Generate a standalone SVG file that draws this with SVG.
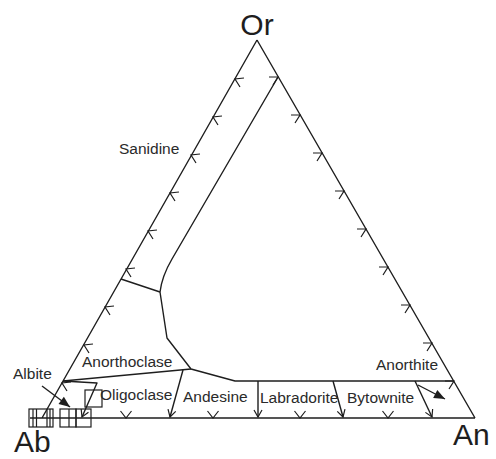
<svg xmlns="http://www.w3.org/2000/svg" xmlns:xlink="http://www.w3.org/1999/xlink" width="496" height="459" viewBox="0 0 496 459">
<style>
.ln{fill:none;stroke:#1e1e1e;stroke-width:1.4;stroke-linejoin:round}
.tk{fill:none;stroke:#1e1e1e;stroke-width:1.2}
.lb{font-family:"Liberation Sans",Arial,sans-serif;font-size:15.5px;fill:#2a2a2a}
.big{font-family:"Liberation Sans",Arial,sans-serif;font-size:30px;fill:#1e1e1e}
</style>
<defs>
<marker id="av" markerUnits="userSpaceOnUse" viewBox="-9 -6 11 12" refX="0" refY="0" markerWidth="11" markerHeight="12" orient="auto">
<path d="M-7,-4 L0,0 L-7,4" fill="none" stroke="#1e1e1e" stroke-width="1.2"/>
</marker>
<marker id="af" markerUnits="userSpaceOnUse" viewBox="-12 -6 13 12" refX="0" refY="0" markerWidth="13" markerHeight="12" orient="auto">
<path d="M-11,-4.5 L0,0 L-11,4.5 Z" fill="#1e1e1e"/>
</marker>
<path id="tl" class="tk" d="M9,-1 L0,0 L5,8"/>
<path id="tr" class="tk" d="M-9,0 L0,0 L-5,8"/>
<path id="tv" class="tk" d="M-5.5,-7 L0,0 L5.5,-7"/>
</defs>

<g id="connectors">
<path id="triangle" class="ln" d="M257,40 L42,418 M257,40 L475,418 M30,418 L475,418"/>
<path class="ln" d="M278,77 L172,259 Q162,276 160,292 L167,338 L191,369 L235,381 L454,381"/>
<path class="ln" d="M121,279 L160,292"/>
<path class="ln" d="M63,381 L191,369"/>
<path class="ln" d="M63,381 L97,383 L82,417" marker-end="url(#av)"/>
<path class="ln" d="M183,370 L170,417" marker-end="url(#av)"/>
<path class="ln" d="M258,381 L258,417" marker-end="url(#av)"/>
<path class="ln" d="M333,381 L343,417" marker-end="url(#av)"/>
<path class="ln" d="M415,381 L432,417" marker-end="url(#av)"/>
<path class="ln" d="M42,386 L70,407" marker-end="url(#af)"/>
<path class="ln" d="M418,385 L445,399" marker-end="url(#af)"/>
</g>

<g id="ticks">
<use xlink:href="#tl" x="235" y="79"/>
<use xlink:href="#tl" x="213" y="117"/>
<use xlink:href="#tl" x="191" y="155"/>
<use xlink:href="#tl" x="170" y="193"/>
<use xlink:href="#tl" x="148" y="231"/>
<use xlink:href="#tl" x="126" y="269"/>
<use xlink:href="#tl" x="105" y="307"/>
<use xlink:href="#tl" x="84" y="345"/>
<use xlink:href="#tl" x="62" y="383"/>
<use xlink:href="#tr" x="278" y="77"/>
<use xlink:href="#tr" x="300" y="115"/>
<use xlink:href="#tr" x="322" y="153"/>
<use xlink:href="#tr" x="344" y="191"/>
<use xlink:href="#tr" x="366" y="229"/>
<use xlink:href="#tr" x="388" y="267"/>
<use xlink:href="#tr" x="410" y="305"/>
<use xlink:href="#tr" x="432" y="343"/>
<use xlink:href="#tr" x="454" y="381"/>
<use xlink:href="#tv" x="126" y="418"/>
<use xlink:href="#tv" x="213" y="418"/>
<use xlink:href="#tv" x="300" y="418"/>
<use xlink:href="#tv" x="388" y="418"/>
</g>

<g id="boxes" class="tk">
<rect x="29" y="409" width="24" height="18"/>
<path d="M33,409 V427 M36.5,409 V427 M47,409 V427 M50,409 V427"/>
<rect x="60" y="409" width="16" height="18"/>
<path d="M69,409 V427"/>
<rect x="76" y="409" width="15" height="18"/>
<rect x="85" y="390" width="17" height="17"/>
</g>

<g id="n-or"><text class="big" x="257" y="35" text-anchor="middle">Or</text></g>
<g id="n-ab"><text class="big" x="14" y="452">Ab</text></g>
<g id="n-an"><text class="big" x="453" y="445">An</text></g>
<g id="n-sanidine"><text class="lb" x="119" y="154">Sanidine</text></g>
<g id="n-anorthoclase"><text class="lb" x="82" y="367">Anorthoclase</text></g>
<g id="n-albite"><text class="lb" x="13" y="379">Albite</text></g>
<g id="n-oligoclase"><text class="lb" x="100" y="400">Oligoclase</text></g>
<g id="n-andesine"><text class="lb" x="183" y="402">Andesine</text></g>
<g id="n-labradorite"><text class="lb" x="260" y="403">Labradorite</text></g>
<g id="n-bytownite"><text class="lb" x="347" y="403">Bytownite</text></g>
<g id="n-anorthite"><text class="lb" x="376" y="370">Anorthite</text></g>
</svg>
